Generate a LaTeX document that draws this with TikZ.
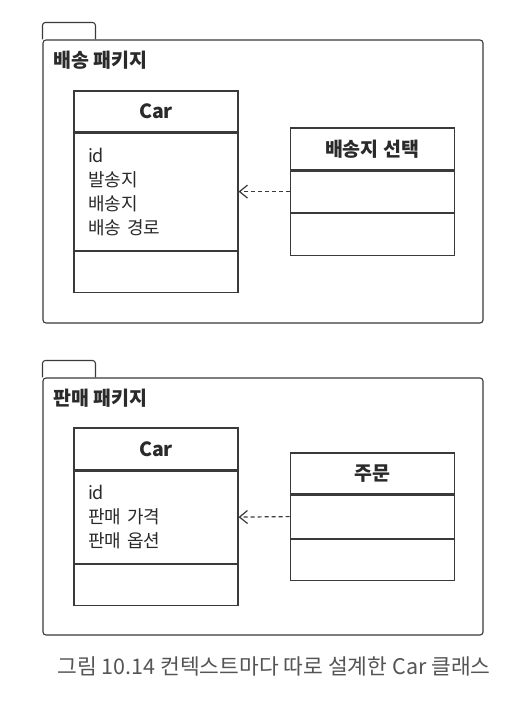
\documentclass[tikz,border=0pt]{standalone}
\usepackage{fontspec}
\setmainfont{Noto Sans CJK KR}
\usetikzlibrary{positioning, arrows.meta}

\definecolor{umlline}{HTML}{3A3A3A}
\definecolor{umltext}{HTML}{2A2A2A}
\definecolor{captiongray}{HTML}{555555}

\begin{document}
\begin{tikzpicture}[x=1pt,y=-1pt,
    pkgbody/.style={draw=umlline,line width=1.1pt,rounded corners=3pt,minimum width=440pt,inner sep=0pt},
    pkgtab/.style={draw=umlline,line width=1.1pt,rounded corners=3pt},
    pkgtitle/.style={font=\fontsize{19.5}{22}\selectfont\bfseries,text=umltext,inner sep=0pt},
    clshead/.style={draw=umlline,line width=1.1pt,minimum width=164pt,minimum height=41pt,inner sep=0pt,font=\fontsize{19.5}{22}\selectfont\bfseries,text=umltext},
    clsbody/.style={draw=umlline,line width=1.1pt,minimum width=164pt,text width=136pt,align=left,inner xsep=14pt,inner ysep=0pt,font=\fontsize{18}{24}\selectfont,text=umltext},
    depends/.style={draw=umlline,line width=1.2pt,dash pattern=on 4pt off 3pt,-{Straight Barb[length=8pt,width=13pt]}}]

    \fill[white] (0,0) rectangle (528,704);
    \useasboundingbox (0,0) rectangle (528,704);

    % 배송 패키지
    \node[pkgbody,minimum height=283pt](pkgA) at (263,181.5){};
    \draw[pkgtab] (pkgA.north west) -- ++(0pt,17pt) -- ++(53pt,0pt) -- ++(0pt,-17pt);
    \node[pkgtitle](titleA)[below right = 11pt and 11pt of pkgA.north west]{배송 패키지};

    \node[clshead](carA)[below right = 51pt and 31pt of pkgA.north west]{Car};
    \node[clsbody,minimum height=117pt](carAattr)[below = 0pt of carA]{id\\발송지\\배송지\\배송 경로};
    \node[clsbody,minimum height=41pt](carAop)[below = 0pt of carAattr]{};

    \node[clshead,minimum height=42pt](selA)[below right = 37pt and 51pt of carA.north east]{배송지 선택};
    \node[clsbody,minimum height=41pt](selAattr)[below = 0pt of selA]{};
    \node[clsbody,minimum height=42pt](selAop)[below = 0pt of selAattr]{};

    \draw[depends] (selAattr.west) -- (carAattr.east);

    % 판매 패키지
    \node[pkgbody,minimum height=257pt](pkgB) at (263,506.5){};
    \draw[pkgtab] (pkgB.north west) -- ++(0pt,17pt) -- ++(53pt,0pt) -- ++(0pt,-17pt);
    \node[pkgtitle](titleB)[below right = 11pt and 11pt of pkgB.north west]{판매 패키지};

    \node[clshead,minimum height=42pt](carB)[below right = 50pt and 31pt of pkgB.north west]{Car};
    \node[clsbody,minimum height=92pt](carBattr)[below = 0pt of carB]{id\\판매 가격\\판매 옵션};
    \node[clsbody,minimum height=41pt](carBop)[below = 0pt of carBattr]{};

    \node[clshead](order)[below right = 25pt and 51pt of carB.north east]{주문};
    \node[clsbody,minimum height=43pt](orderattr)[below = 0pt of order]{};
    \node[clsbody,minimum height=41pt](orderop)[below = 0pt of orderattr]{};

    \draw[depends] (orderattr.west) -- (carBattr.east);

    \node[font=\fontsize{21.5}{24}\selectfont,text=captiongray](caption) at (274,666){그림 10.14 컨텍스트마다 따로 설계한 Car 클래스};
\end{tikzpicture}
\end{document}
